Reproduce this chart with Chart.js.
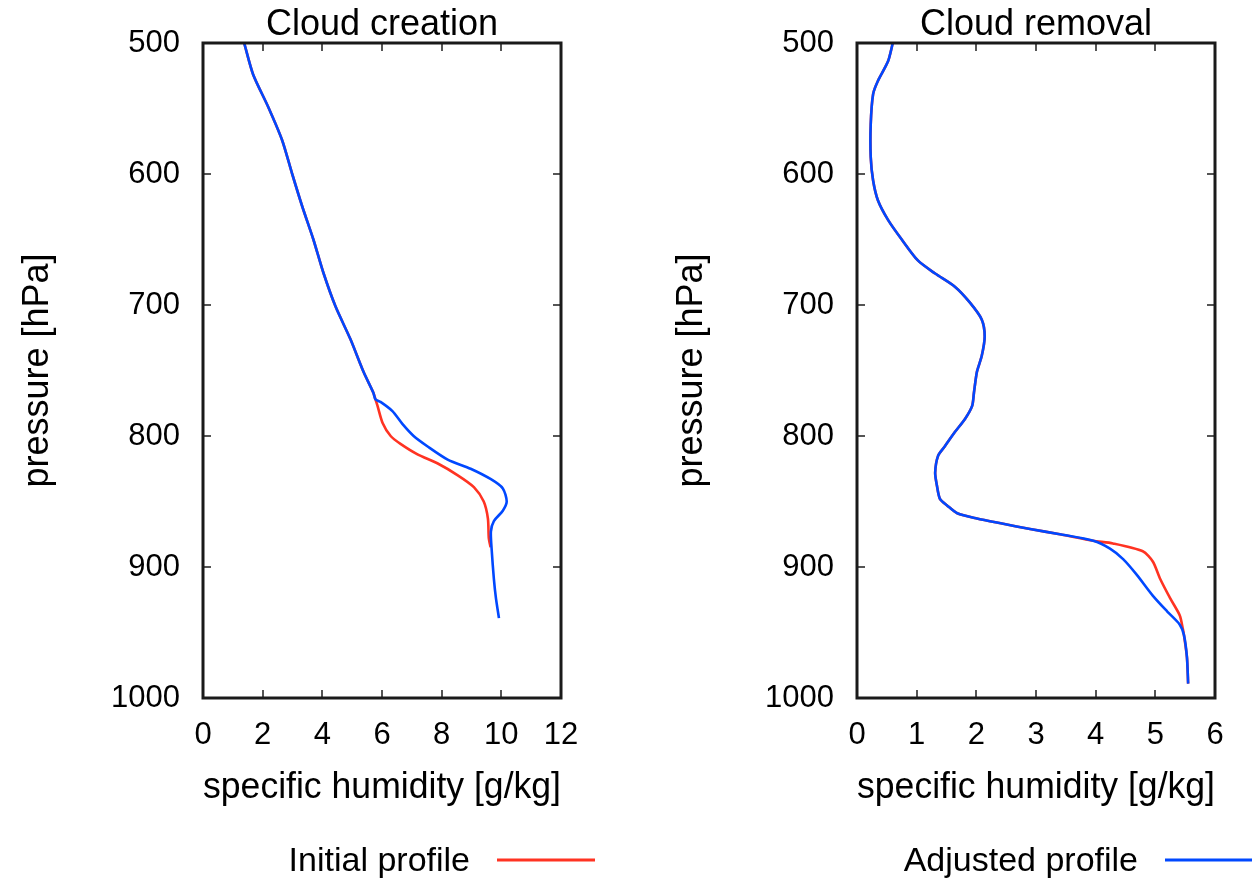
<!DOCTYPE html>
<html>
<head>
<meta charset="utf-8">
<script src="https://cdn.jsdelivr.net/npm/chart.js@4"></script>
<style>
    html, body { margin: 0; padding: 0; background: #fff; }
    #wrap { position: relative; width: 1252px; height: 878px; overflow: hidden; }
    canvas { position: absolute; top: 0; }
    #chart { left: 0; }
    #chart2 { left: 654px; }
</style>
</head>
<body>
<div id="wrap">
    <canvas id="chart" width="598" height="878"></canvas>
    <canvas id="chart2" width="598" height="878"></canvas>
</div>
<script>
// Cloud creation (left panel)
const creationPressureInitial = [500, 524, 549, 574, 600, 625, 650, 675, 701, 726, 751, 767, 772, 777, 790, 800, 806, 814, 821, 830, 839, 850, 863, 878, 885];
const creationInitial = [1.38, 1.68, 2.19, 2.65, 2.99, 3.33, 3.70, 4.03, 4.44, 4.94, 5.38, 5.71, 5.78, 5.85, 6.02, 6.29, 6.62, 7.19, 7.87, 8.54, 9.08, 9.41, 9.55, 9.58, 9.64];
const creationPressureAdjusted = [500, 524, 549, 574, 600, 625, 650, 675, 701, 726, 751, 767, 772, 774, 781, 791, 800, 808, 818, 825, 833, 840, 850, 857, 865, 873, 888, 909, 924, 939];
const creationAdjusted = [1.38, 1.68, 2.19, 2.65, 2.99, 3.33, 3.70, 4.03, 4.44, 4.94, 5.38, 5.71, 5.78, 5.95, 6.35, 6.69, 7.06, 7.53, 8.20, 8.97, 9.65, 10.05, 10.18, 10.05, 9.75, 9.65, 9.68, 9.75, 9.82, 9.92];

// Cloud removal (right panel)
const removalPressureInitial = [500, 514, 529, 539, 562, 587, 605, 620, 635, 650, 666, 676, 686, 698, 711, 724, 739, 751, 767, 777, 787, 797, 808, 815, 828, 838, 848, 853, 859, 863, 867, 871, 875, 880, 882, 888, 896, 909, 924, 937, 947, 952, 969, 989];
const removalInitial = [0.60, 0.52, 0.35, 0.27, 0.23, 0.23, 0.27, 0.35, 0.52, 0.75, 1.02, 1.31, 1.64, 1.89, 2.09, 2.14, 2.09, 2.01, 1.96, 1.93, 1.81, 1.64, 1.47, 1.36, 1.31, 1.34, 1.39, 1.51, 1.68, 2.01, 2.45, 2.90, 3.40, 3.96, 4.29, 4.79, 4.96, 5.08, 5.25, 5.41, 5.46, 5.48, 5.53, 5.55];
const removalPressureAdjusted = [500, 514, 529, 539, 562, 587, 605, 620, 635, 650, 666, 676, 686, 698, 711, 724, 739, 751, 767, 777, 787, 797, 808, 815, 828, 838, 848, 853, 859, 863, 867, 871, 875, 880, 886, 894, 906, 922, 934, 944, 952, 969, 989];
const removalAdjusted = [0.60, 0.52, 0.35, 0.27, 0.23, 0.23, 0.27, 0.35, 0.52, 0.75, 1.02, 1.31, 1.64, 1.89, 2.09, 2.14, 2.09, 2.01, 1.96, 1.93, 1.81, 1.64, 1.47, 1.36, 1.31, 1.34, 1.39, 1.51, 1.68, 2.01, 2.45, 2.90, 3.40, 3.96, 4.24, 4.46, 4.69, 4.96, 5.20, 5.41, 5.48, 5.53, 5.55];

const pressureTicks = [500, 600, 700, 800, 900, 1000];

const RED = '#ff3322';
const BLUE = '#0048ff';
const FONT = '"Liberation Sans", Arial, sans-serif';

Chart.defaults.color = '#000000';
Chart.defaults.font.family = FONT;

// inward ticks on all four sides plus the box round the plot
const framePlugin = {
    id: 'frame',
    afterDatasetsDraw(chart) {
        const { ctx, chartArea: a, scales: { x, y } } = chart;
        ctx.save();
        ctx.strokeStyle = '#555555';
        ctx.lineWidth = 2;
        ctx.beginPath();
        x.ticks.forEach(t => {
            const px = Math.round(x.getPixelForValue(t.value));
            if (px <= a.left + 2 || px >= a.right - 2) return;
            ctx.moveTo(px, a.bottom); ctx.lineTo(px, a.bottom - 8);
            ctx.moveTo(px, a.top); ctx.lineTo(px, a.top + 8);
        });
        y.ticks.forEach(t => {
            const py = Math.round(y.getPixelForValue(t.value));
            if (py <= a.top + 2 || py >= a.bottom - 2) return;
            ctx.moveTo(a.left, py); ctx.lineTo(a.left + 8, py);
            ctx.moveTo(a.right, py); ctx.lineTo(a.right - 8, py);
        });
        ctx.stroke();
        ctx.strokeStyle = '#1a1a1a';
        ctx.lineWidth = 3;
        ctx.strokeRect(a.left, a.top, a.right - a.left, a.bottom - a.top);
        ctx.restore();
    }
};

// gnuplot style key: text first, then the line sample
const keyPlugin = {
    id: 'keyLine',
    afterDraw(chart, args, opts) {
        const ctx = chart.ctx;
        ctx.save();
        ctx.font = '34px ' + FONT;
        ctx.fillStyle = '#000';
        ctx.textAlign = 'right';
        ctx.textBaseline = 'alphabetic';
        ctx.fillText(opts.text, opts.textRight, 871);
        ctx.strokeStyle = opts.color;
        ctx.lineWidth = 3;
        ctx.beginPath();
        ctx.moveTo(opts.textRight + 27, 860);
        ctx.lineTo(opts.textRight + 125, 860);
        ctx.stroke();
        ctx.restore();
    }
};

function toPoints(xs, ps) {
    return xs.map((v, i) => ({ x: v, y: ps[i] }));
}

function makeChart(el, title, xMax, xStep, initial, adjusted, key) {
    return new Chart(el, {
        type: 'line',
        data: {
            datasets: [{
                label: 'Initial profile',
                data: initial,
                borderColor: RED,
                borderWidth: 2.6,
                pointRadius: 0,
                tension: 0.25,
                order: 2
            }, {
                label: 'Adjusted profile',
                data: adjusted,
                borderColor: BLUE,
                borderWidth: 2.6,
                pointRadius: 0,
                tension: 0.25,
                order: 1
            }]
        },
        options: {
            responsive: false,
            animation: false,
            events: [],
            layout: { padding: { left: 16, right: 37, top: 0, bottom: 68 } },
            plugins: {
                legend: { display: false },
                tooltip: { enabled: false },
                title: {
                    display: true,
                    text: title,
                    fullSize: false,
                    color: '#000',
                    font: { size: 36, weight: 'normal', lineHeight: 1.0 },
                    padding: { top: 7, bottom: 0 }
                },
                keyLine: key
            },
            scales: {
                x: {
                    type: 'linear',
                    min: 0,
                    max: xMax,
                    grid: { display: false, drawTicks: false },
                    border: { display: false },
                    ticks: { stepSize: xStep, padding: 19, font: { size: 31 }, color: '#000' },
                    title: {
                        display: true,
                        text: 'specific humidity [g/kg]',
                        color: '#000',
                        font: { size: 36 },
                        padding: 0
                    },
                    afterFit: (scale) => { scale.height = 112; }
                },
                y: {
                    type: 'linear',
                    reverse: true,
                    min: 500,
                    max: 1000,
                    grid: { display: false, drawTicks: false },
                    border: { display: false },
                    afterBuildTicks: (scale) => { scale.ticks = pressureTicks.map(v => ({ value: v })); },
                    ticks: {
                        padding: 23,
                        font: { size: 31 },
                        color: '#000',
                        callback: (value) => String(value)
                    },
                    title: {
                        display: true,
                        text: 'pressure [hPa]',
                        color: '#000',
                        font: { size: 36 },
                        padding: 0
                    },
                    afterFit: (scale) => { scale.width = 187; }
                }
            }
        },
        plugins: [framePlugin, keyPlugin]
    });
}

document.addEventListener("DOMContentLoaded", () => {
    makeChart(document.getElementById('chart'), 'Cloud creation', 12, 2,
        toPoints(creationInitial, creationPressureInitial),
        toPoints(creationAdjusted, creationPressureAdjusted),
        { text: 'Initial profile', color: RED, textRight: 470 });

    makeChart(document.getElementById('chart2'), 'Cloud removal', 6, 1,
        toPoints(removalInitial, removalPressureInitial),
        toPoints(removalAdjusted, removalPressureAdjusted),
        { text: 'Adjusted profile', color: BLUE, textRight: 484 });
});
</script>
</body>
</html>
